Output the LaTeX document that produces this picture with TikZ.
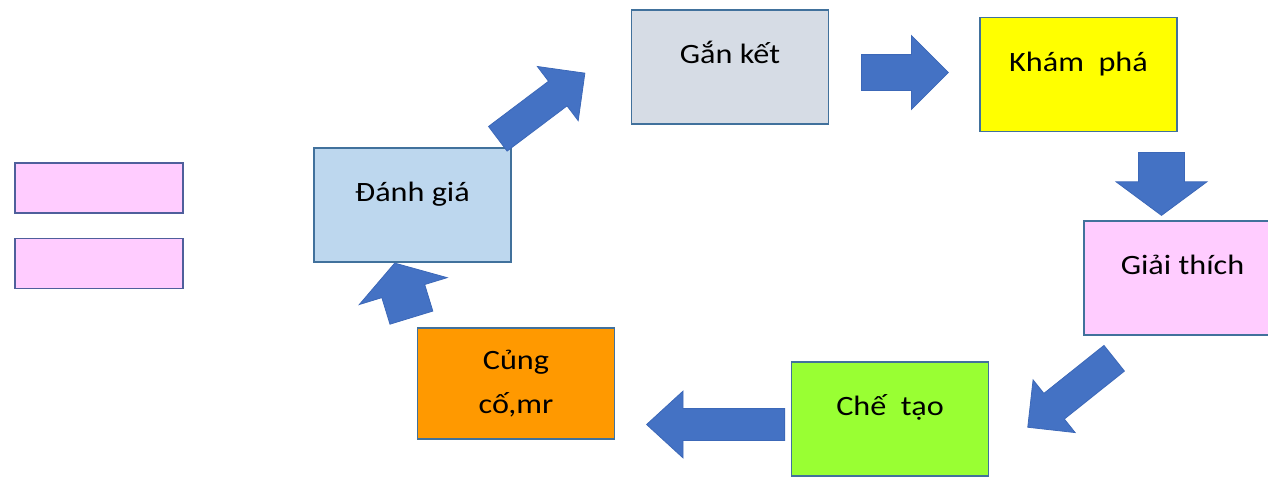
\documentclass[tikz,border=0pt]{standalone}
\usepackage{fontspec}
\setmainfont{Carlito}[FakeStretch=1.15]
\usetikzlibrary{shapes.arrows}
\definecolor{edgeblue}{HTML}{41719C}
\definecolor{blankedge}{HTML}{4F5F9C}
\definecolor{arrowblue}{HTML}{4472C4}
\definecolor{arrowedge}{HTML}{3C68B8}
\definecolor{evalfill}{HTML}{BDD7EE}
\definecolor{engagefill}{HTML}{D6DCE5}
\definecolor{explorefill}{HTML}{FFFF00}
\definecolor{explainfill}{HTML}{FFCCFF}
\definecolor{buildfill}{HTML}{99FF33}
\definecolor{reviewfill}{HTML}{FF9900}
\tikzstyle{stage}=[draw=edgeblue, line width=0.75pt, inner sep=0pt,
    minimum width=98.5pt, minimum height=57pt,
    text height=10pt, text depth=13.4pt]
\tikzstyle{blank}=[draw=blankedge, line width=0.9pt, fill=explainfill,
    minimum width=84pt, minimum height=25pt]
\tikzstyle{barrow}=[single arrow, fill=arrowblue, draw=arrowedge,
    line width=0.4pt, inner sep=0pt, text depth=0pt, anchor=tail]

\begin{document}
\begin{tikzpicture}[x=0.5pt, y=-0.5pt, font=\fontsize{14}{22}\selectfont]
    \clip (0,0) rectangle (1268,477);
    % boxes of the cycle
    \node (eval) [stage, fill=evalfill] at (412.5,205) {Đánh giá};
    \node (engage) [stage, fill=engagefill] at (730,67) {Gắn kết};
    \node (explore) [stage, fill=explorefill] at (1078.5,74.5) {Khám~ phá};
    \node (explain) [stage, fill=explainfill] at (1182.5,278) {Giải thích};
    \node (build) [stage, fill=buildfill] at (890,419) {Chế~ tạo};
    \node (review) [stage, fill=reviewfill, minimum height=55.5pt,
        text height=, text depth=, align=center] at (516,383.5) {Củng\\cố,mr};
    % empty boxes on the left
    \node (blank1) [blank] at (99,188) {};
    \node (blank2) [blank] at (99,263.5) {};
    % block arrows
    \node (engtoexp) [barrow, text height=17.5pt, minimum height=43.5pt,
        single arrow head extend=9.5pt] at (861,72.5) {};
    \node (exptoexl) [barrow, rotate=-90, text height=22.5pt, minimum height=31.5pt,
        single arrow head extend=11.25pt, single arrow tip angle=107] at (1161.5,152) {};
    \node (exltobld) [barrow, rotate=-141.4, text height=16pt, minimum height=55.3pt,
        single arrow head extend=8.65pt] at (1114.5,358) {};
    \node (bldtorev) [barrow, rotate=180, text height=15.5pt, minimum height=69pt,
        single arrow head extend=8.75pt, single arrow tip angle=85] at (785,424.5) {};
    \node (revtoeval) [barrow, rotate=107, text height=22pt, minimum height=28.5pt,
        single arrow head extend=11.75pt, single arrow tip angle=115] at (411.5,318) {};
    \node (evaltoeng) [barrow, rotate=37, text height=15pt, minimum height=54.5pt,
        single arrow head extend=9.25pt] at (497.5,139) {};
\end{tikzpicture}
\end{document}
